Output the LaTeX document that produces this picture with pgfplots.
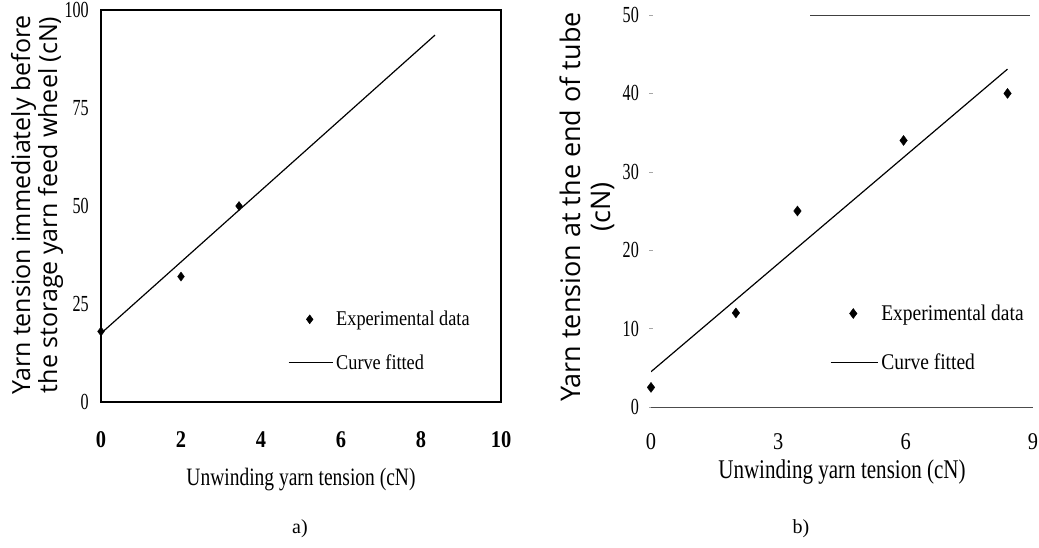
\documentclass[border=0pt]{standalone}
\usepackage{pgfplots}
\pgfplotsset{compat=1.18}
\usepackage{fontspec}
\setmainfont{Liberation Serif}
\newfontfamily\labfont{Open Sans}
\newfontfamily\xtickfont[FakeStretch=0.85]{Liberation Serif}
\newfontfamily\ytickfont[FakeStretch=0.7]{Liberation Serif}
\newfontfamily\narrow[FakeStretch=0.78]{Liberation Serif}
\newfontfamily\narrowleg[FakeStretch=0.87]{Liberation Serif}

\pgfplotsset{
  panel/.style={
    scale only axis,
    /pgf/number format/assume math mode=true,
    xticklabel style={anchor=center, inner sep=0pt,
      font=\xtickfont\bfseries\fontsize{24}{26}\selectfont},
    yticklabel style={anchor=east, inner sep=0pt,
      font=\ytickfont\fontsize{23}{25}\selectfont},
    xlabel style={anchor=base, inner sep=0pt,
      font=\narrow\fontsize{25}{27}\selectfont},
    ylabel style={anchor=center, align=center},
    legend cell align=left,
    legend style={draw=none, fill=none, inner sep=0pt, outer sep=0pt,
      column sep=3pt, nodes={inner sep=0pt}},
  },
  markimg/.style={legend image code/.code={%
      \path[draw=none, fill=none] (0pt,-5pt) rectangle (#1,5pt);
      \draw[##1] plot coordinates {(0.48*#1,0pt)};}},
  lineimg/.style={legend image code/.code={%
      \path[draw=none, fill=none] (0pt,-5pt) rectangle (#1,5pt);
      \draw[##1] (0pt,0pt) -- (#1,0pt);}},
}

\begin{document}
\begin{tikzpicture}[x=1pt,y=1pt]
\useasboundingbox (0,0) rectangle (1039,547);

% (a) tension before the storage yarn feed wheel
\begin{axis}[panel,
  at={(101pt,145pt)}, anchor=south west,
  width=400pt, height=392pt,
  xmin=0, xmax=10, ymin=0, ymax=100,
  xtick={0,2,4,6,8,10}, ytick={0,25,50,75,100},
  major tick length=0pt,
  axis line style={line width=1.6pt},
  xticklabel style={yshift=-38pt},
  yticklabel style={xshift=-12pt},
  xlabel={Unwinding yarn tension (cN)},
  xlabel style={at={(axis description cs:0.5,0)}, yshift=-83pt},
  ylabel={Yarn tension immediately before\\the storage yarn feed wheel (cN)},
  ylabel style={at={(axis description cs:-0.16,0.503)},
    font=\labfont\fontsize{25}{27}\selectfont},
  legend style={at={(axis cs:4.675,8)}, anchor=south west,
    row sep=27pt, font=\narrowleg\fontsize{21}{23}\selectfont},
]
\addplot[only marks, mark=diamond*, mark size=4.5pt, black, markimg=44pt]
  coordinates {(0,18) (2,32) (3.45,50)};
\addlegendentry{Experimental data}
\addplot[black, line width=1.2pt, lineimg=44pt]
  coordinates {(0,17.5) (8.35,93.6)};
\addlegendentry{Curve fitted}
\end{axis}

% (b) tension at the end of the tube
\begin{axis}[panel,
  at={(651pt,140pt)}, anchor=south west,
  width=382pt, height=392pt,
  xmin=0, xmax=9, ymin=0, ymax=50,
  xtick={0,3,6,9}, ytick={0,10,20,30,40,50},
  axis x line=bottom, axis y line=left,
  axis line style={-},
  x axis line style={line width=1pt, black!70},
  y axis line style={draw=none},
  xtick style={draw=none},
  ytick style={black!35, line width=0.6pt},
  major tick length=4pt,
  xticklabel style={yshift=-33pt,
    font=\xtickfont\fontsize{24}{26}\selectfont},
  yticklabel style={xshift=-10pt},
  xlabel={Unwinding yarn tension (cN)},
  xlabel style={at={(axis description cs:0.5,0)}, yshift=-71pt,
    font=\narrow\fontsize{27}{29}\selectfont},
  ylabel={Yarn tension at the end of tube\\(cN)},
  ylabel style={at={(axis description cs:-0.1675,0.51)},
    font=\labfont\fontsize{27}{30}\selectfont},
  legend style={at={(axis cs:4.22,4.55)}, anchor=south west,
    row sep=32pt, font=\narrowleg\fontsize{22.4}{24}\selectfont},
]
\addplot[only marks, mark=diamond*, mark size=5pt, black, markimg=47pt]
  coordinates {(0,2.5) (2,12) (3.45,25) (5.95,34) (8.4,40)};
\addlegendentry{Experimental data}
\addplot[black, line width=1.2pt, lineimg=47pt]
  coordinates {(0,4.5) (8.4,43.1)};
\addlegendentry{Curve fitted}
\draw[line width=0.9pt, black!75] (axis cs:3.75,50) -- (axis cs:8.93,50);
\end{axis}

\node[anchor=base, font=\fontsize{20}{24}\selectfont] at (300,14) {a)};
\node[anchor=base, font=\fontsize{20}{24}\selectfont] at (801,14) {b)};
\end{tikzpicture}
\end{document}
